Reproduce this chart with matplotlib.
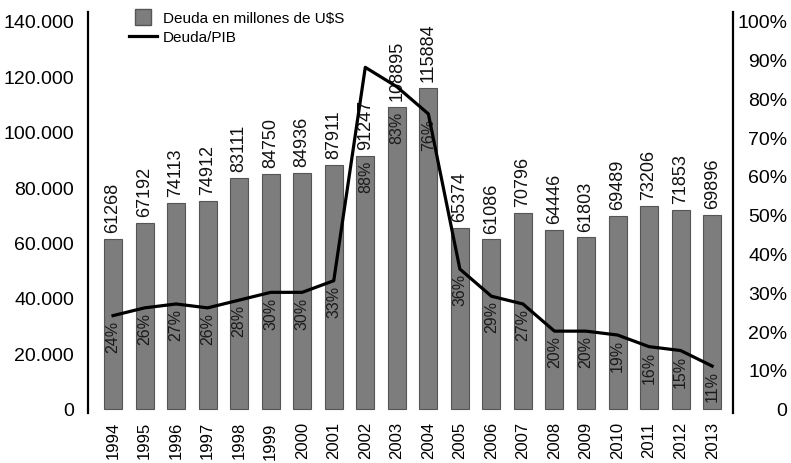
import matplotlib
matplotlib.use("Agg")
import matplotlib.pyplot as plt
from matplotlib.lines import Line2D
import numpy as np

years = ["1994", "1995", "1996", "1997", "1998", "1999", "2000", "2001", "2002", "2003",
         "2004", "2005", "2006", "2007", "2008", "2009", "2010", "2011", "2012", "2013"]
deuda = [61268, 67192, 74113, 74912, 83111, 84750, 84936, 87911, 91247, 108895,
         115884, 65374, 61086, 70796, 64446, 61803, 69489, 73206, 71853, 69896]
deuda_pib = [24, 26, 27, 26, 28, 30, 30, 33, 88, 83, 76, 36, 29, 27, 20, 20, 19, 16, 15, 11]
left_ticks = [0, 20000, 40000, 60000, 80000, 100000, 120000, 140000]
left_labels = ["0", "20.000", "40.000", "60.000", "80.000", "100.000", "120.000", "140.000"]
right_ticks = [0, 10, 20, 30, 40, 50, 60, 70, 80, 90, 100]
right_labels = ["0", "10%", "20%", "30%", "40%", "50%", "60%", "70%", "80%", "90%", "100%"]

FONT = ["Liberation Sans Narrow", "Liberation Sans", "DejaVu Sans"]
plt.rcParams["font.family"] = FONT

fig = plt.figure(figsize=(7.91, 4.64), dpi=100)
ax = fig.add_axes([0.111, 0.108, 0.816, 0.863])
ax2 = ax.twinx()

x = np.arange(len(years))
ylo, yhi = -1500, 143000
scale = 1400.0

ax.bar(x, deuda, width=0.57, color="#7d7d7d", edgecolor="#555555", linewidth=0.8, zorder=2)
ax.set_xlim(-0.8, len(years) - 1 + 0.67)
ax.set_ylim(ylo, yhi)
ax2.set_ylim(ylo / scale, yhi / scale)

ax2.plot(x, deuda_pib, color="black", linewidth=2.3, zorder=5)

# value labels
for xi, v in zip(x, deuda):
    ax.text(xi, v + 2500, f"{v}", rotation=90, ha="center", va="bottom",
            fontsize=13, color="#111111", zorder=6)

# percentage labels inside bars
for xi, v, p in zip(x, deuda, deuda_pib):
    top = min(p * scale, v) - 1500
    ax.text(xi, top, f"{p}%", rotation=90, ha="center", va="top",
            fontsize=11.5, color="#1a1a1a", zorder=6)

ax.set_xticks(x)
ax.set_xticklabels(years, rotation=90, fontsize=12)
ax.set_yticks(left_ticks)
ax.set_yticklabels(left_labels, fontsize=14)
ax2.set_yticks(right_ticks)
ax2.set_yticklabels(right_labels, fontsize=14, ha="right")

ax.tick_params(axis="x", length=0, pad=6)
ax.tick_params(axis="y", length=0, pad=10)
ax2.tick_params(axis="y", length=0, pad=39)

for a in (ax, ax2):
    a.spines["top"].set_visible(False)
    a.spines["bottom"].set_visible(False)
ax.spines["right"].set_visible(False)
ax2.spines["left"].set_visible(False)
ax.spines["left"].set_linewidth(1.6)
ax2.spines["right"].set_linewidth(1.6)

handles = [
    Line2D([], [], marker="s", markersize=11, color="#7d7d7d", markeredgecolor="#555555",
           linestyle="none"),
    Line2D([], [], color="black", linewidth=2.3),
]
leg = fig.legend(handles, ["Deuda en millones de U$S", "Deuda/PIB"],
                 loc="upper left", bbox_to_anchor=(129 / 791, 1 - 12 / 464),
                 frameon=False, fontsize=11, handlelength=1.8, handletextpad=0.4,
                 labelspacing=0.35, borderpad=0.0, borderaxespad=0.0)

fig.savefig("out.png", dpi=100)
